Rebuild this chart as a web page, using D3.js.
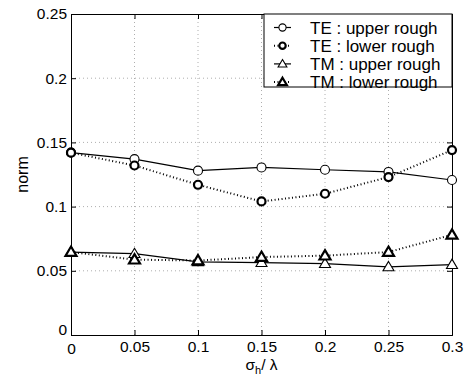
<!DOCTYPE html>
<html>
<head>
<meta charset="utf-8">
<script src="https://cdn.jsdelivr.net/npm/d3@7"></script>
<style>
  body { margin: 0; background: #fff; }
  text { font-family: "Liberation Sans", Arial, sans-serif; }
</style>
</head>
<body>
<div id="chart"></div>
<script>
const width = 466;
const height = 377;

const xValues = [0, 0.05, 0.1, 0.15, 0.2, 0.25, 0.3];
const teUpper = [0.142, 0.137, 0.128, 0.1305, 0.1287, 0.127, 0.1207];
const teLower = [0.142, 0.132, 0.117, 0.104, 0.110, 0.123, 0.144];
const tmUpper = [0.0646, 0.0633, 0.057, 0.0563, 0.0556, 0.053, 0.0548];
const tmLower = [0.0646, 0.0587, 0.058, 0.0607, 0.0618, 0.0646, 0.078];
const xTicks = [0, 0.05, 0.1, 0.15, 0.2, 0.25, 0.3];
const yTicks = [0, 0.05, 0.1, 0.15, 0.2, 0.25];

const series = [
  {name: "TE : upper rough", values: teUpper, marker: "circle", dotted: false},
  {name: "TE : lower rough", values: teLower, marker: "circle", dotted: true},
  {name: "TM : upper rough", values: tmUpper, marker: "triangle", dotted: false},
  {name: "TM : lower rough", values: tmLower, marker: "triangle", dotted: true}
];

const margin = {top: 14, right: 14, bottom: 42, left: 71};

const svg = d3.select("#chart")
    .append("svg")
    .attr("width", width)
    .attr("height", height);

const x = d3.scaleLinear().domain([0, 0.3]).range([margin.left, width - margin.right]);
const y = d3.scaleLinear().domain([0, 0.25]).range([height - margin.bottom, margin.top]);

// grid
svg.append("g").selectAll("line").data(xTicks.slice(1, -1)).join("line")
    .attr("x1", d => x(d)).attr("x2", d => x(d))
    .attr("y1", y(0)).attr("y2", y(0.25))
    .attr("stroke", "#999").attr("stroke-width", 0.8).attr("stroke-dasharray", "1,3");
svg.append("g").selectAll("line").data(yTicks.slice(1, -1)).join("line")
    .attr("x1", x(0)).attr("x2", x(0.3))
    .attr("y1", d => y(d)).attr("y2", d => y(d))
    .attr("stroke", "#999").attr("stroke-width", 0.8).attr("stroke-dasharray", "1,3");

// axes
const xAxis = svg.append("g")
    .attr("transform", `translate(0,${y(0)})`)
    .call(d3.axisBottom(x).tickValues(xTicks).tickSize(-5).tickPadding(6).tickFormat(d3.format("")));
const yAxis = svg.append("g")
    .attr("transform", `translate(${x(0)},0)`)
    .call(d3.axisLeft(y).tickValues(yTicks).tickSize(-5).tickPadding(4).tickFormat(d3.format("")));
svg.append("g")
    .attr("transform", `translate(0,${y(0.25)})`)
    .call(d3.axisTop(x).tickValues(xTicks).tickSize(-5).tickFormat(""));
svg.append("g")
    .attr("transform", `translate(${x(0.3)},0)`)
    .call(d3.axisRight(y).tickValues(yTicks).tickSize(-5).tickFormat(""));

svg.selectAll(".domain").attr("stroke", "#000").attr("stroke-width", 1);
svg.selectAll(".tick line").attr("stroke", "#000");
svg.selectAll(".tick text").attr("font-size", 15.5).attr("fill", "#000")
    .style("font-family", "'Liberation Sans', Arial, sans-serif");
yAxis.selectAll(".tick text").attr("dy", "0.32em");
yAxis.selectAll(".tick").filter(d => d === 0).select("text").attr("dy", "-0.05em");
xAxis.selectAll(".tick").filter(d => d === 0).select("text").attr("dy", "0.85em");

// labels
svg.append("text")
    .attr("transform", `translate(28,${(y(0) + y(0.25)) / 2}) rotate(-90)`)
    .attr("text-anchor", "middle")
    .attr("font-size", 16)
    .text("norm");

const xl = svg.append("text")
    .attr("x", (x(0) + x(0.3)) / 2)
    .attr("y", 370)
    .attr("text-anchor", "middle")
    .attr("font-size", 15.5);
xl.append("tspan").text("σ");
xl.append("tspan").attr("font-size", 11).attr("dy", 4).text("h");
xl.append("tspan").attr("dy", -4).text("/ λ");

// lines and markers
const line = d3.line().x((d, i) => x(xValues[i])).y(d => y(d));

const drawMarker = (g, s, cx, cy, k = 1) => {
  const sw = s.dotted ? 2.2 : 1.1;
  if (s.marker === "circle") {
    g.append("circle").attr("cx", cx).attr("cy", cy).attr("r", (s.dotted ? 4 : 4.5) * k)
        .attr("fill", "#fff").attr("stroke", "#000").attr("stroke-width", sw);
  } else {
    const r = 5.5 * k;
    g.append("path")
        .attr("d", `M${cx},${cy - r}L${cx + r},${cy + r * 0.7}L${cx - r},${cy + r * 0.7}Z`)
        .attr("fill", "#fff").attr("stroke", "#000").attr("stroke-width", sw)
        .attr("stroke-linejoin", "miter");
  }
};

const plot = svg.append("g");
series.forEach(s => {
  plot.append("path")
      .attr("d", line(s.values))
      .attr("fill", "none")
      .attr("stroke", "#000")
      .attr("stroke-width", s.dotted ? 2 : 1.2)
      .attr("stroke-dasharray", s.dotted ? "1,2.5" : null);
});
series.forEach(s => {
  s.values.forEach((v, i) => drawMarker(plot, s, x(xValues[i]), y(v)));
});

// legend
const lg = svg.append("g");
const lx0 = 264, ly0 = 14, lw = x(0.3) - 264, lh = 73;
lg.append("rect").attr("x", lx0).attr("y", ly0).attr("width", lw).attr("height", lh)
    .attr("fill", "#fff").attr("stroke", "#000").attr("stroke-width", 1);
series.forEach((s, i) => {
  const yy = 27.5 + i * 18.2;
  lg.append("line").attr("x1", 274).attr("x2", 291).attr("y1", yy).attr("y2", yy)
      .attr("stroke", "#000")
      .attr("stroke-width", s.dotted ? 2 : 1.2)
      .attr("stroke-dasharray", s.dotted ? "1,2.5" : null);
  drawMarker(lg, s, 282.5, yy, 0.8);
  lg.append("text").attr("x", 310).attr("y", yy).attr("dy", "0.36em")
      .attr("font-size", 17).text(s.name);
});
</script>
</body>
</html>
